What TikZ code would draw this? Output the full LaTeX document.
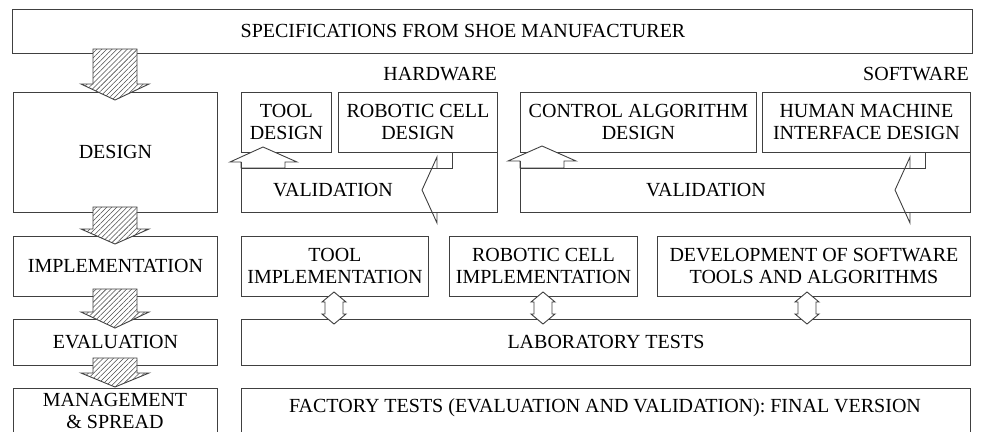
\documentclass[tikz,border=0pt]{standalone}
\usepackage{fontspec}
\setmainfont{Liberation Serif}
\usetikzlibrary{patterns.meta}

% box with its north-west corner at (x,y), given width and height
\newcommand\boxat[6]{\node[box, minimum width=#4pt, minimum height=#5pt] (#1) at (#2,#3) {#6};}
% hatched down arrow: centre x, stem top, head base, tip
\newcommand\hatcharrow[4]{%
  \draw[hatch] (#1-22,#2) -- (#1+22,#2) -- (#1+22,#3) -- (#1+34,#3) -- (#1,#4)
    -- (#1-34,#3) -- (#1-22,#3) -- cycle;}
% hollow two-headed vertical arrow centred at x
\newcommand\twoway[1]{%
  \draw[hollow] (#1,292) -- (#1+12,302) -- (#1+9,302) -- (#1+9,314) -- (#1+12,314)
    -- (#1,324) -- (#1-12,314) -- (#1-9,314) -- (#1-9,302) -- (#1-12,302) -- cycle;}

\begin{document}
\begin{tikzpicture}[x=1pt,y=-1pt,
  ln/.style={draw=black!75, line width=0.9pt},
  box/.style={ln, fill=white, rectangle, inner sep=0pt, align=center,
    font=\fontsize{20}{22}\selectfont, anchor=north west},
  lbl/.style={inner sep=0pt, align=center, font=\fontsize{20}{22}\selectfont},
  hatch/.style={ln, fill=white, line join=miter,
    postaction={pattern={Lines[angle=45,distance=3.6pt,line width=0.55pt]},
      pattern color=black!70}},
  hollow/.style={ln, fill=white, line join=miter},
]
\useasboundingbox (0,0) rectangle (981,431);

% phases
\boxat{spec}{12}{9}{960}{44}{}
\node[lbl] (spectext) at (463,31) {SPECIFICATIONS FROM SHOE MANUFACTURER};
\boxat{design}{13}{92}{204}{120}{DESIGN}
\boxat{impl}{13}{236}{204}{60}{IMPLEMENTATION}
\boxat{eval}{13}{319}{204}{46}{EVALUATION}
\draw[ln] (13,440) -- (13,388) -- (217,388) -- (217,440);
\node[lbl] (mgmt) at (115,411) {MANAGEMENT\\\& SPREAD};

% design row
\node[lbl, anchor=east] (hw) at (497,74) {HARDWARE};
\node[lbl, anchor=east] (sw) at (969,74) {SOFTWARE};
\boxat{tooldes}{241}{92}{90}{60}{TOOL\\DESIGN}
\boxat{robdes}{338}{92}{159}{60}{ROBOTIC CELL\\DESIGN}
\boxat{ctrldes}{520}{92}{236}{60}{CONTROL ALGORITHM\\DESIGN}
\boxat{hmides}{762}{92}{208}{60}{HUMAN MACHINE\\INTERFACE DESIGN}

% hardware validation loop
\draw[hollow] (241,168) -- (241,162) -- (230,162) -- (263,147) -- (297,162)
  -- (285,162) -- (285,168) -- cycle;
\draw[ln] (241,162) -- (241,212) -- (497,212) -- (497,152);
\draw[ln] (241,168) -- (452,168) -- (452,152);
\draw[ln, line join=miter] (437,168) -- (437,157) -- (422,190) -- (437,223) -- (437,212);
\node[lbl] (hwval) at (333,190) {VALIDATION};

% software validation loop
\draw[hollow] (520,168) -- (520,161) -- (508,161) -- (542,146) -- (576,161)
  -- (564,161) -- (564,168) -- cycle;
\draw[ln] (520,161) -- (520,212) -- (970,212) -- (970,152);
\draw[ln] (520,168) -- (925,168) -- (925,152);
\draw[ln, line join=miter] (910,168) -- (910,157) -- (895,190) -- (910,223) -- (910,212);
\node[lbl] (swval) at (706,190) {VALIDATION};

% implementation row and tests
\boxat{toolimp}{241}{236}{187}{60}{TOOL\\IMPLEMENTATION}
\boxat{robimp}{449}{236}{188}{60}{ROBOTIC CELL\\IMPLEMENTATION}
\boxat{devsw}{657}{236}{313}{60}{DEVELOPMENT OF SOFTWARE\\TOOLS AND ALGORITHMS}
\boxat{lab}{241}{319}{729}{46}{LABORATORY TESTS}
\draw[ln] (241,440) -- (241,388) -- (970,388) -- (970,440);
\node[lbl] (factory) at (605,408) {FACTORY TESTS (EVALUATION AND VALIDATION): FINAL VERSION};

\twoway{334}
\twoway{543}
\twoway{807}

% flow between phases
\hatcharrow{115}{49}{84}{100}
\hatcharrow{115}{207}{229}{244}
\hatcharrow{115}{289}{312}{328}
\hatcharrow{115}{358}{373}{387}
\end{tikzpicture}
\end{document}
